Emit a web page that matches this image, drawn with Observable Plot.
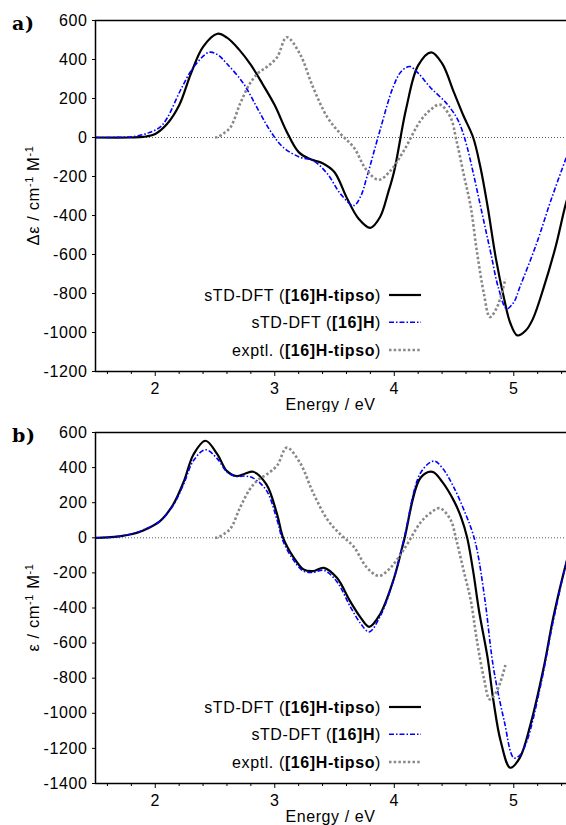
<!DOCTYPE html>
<html><head><meta charset="utf-8">
<script src="https://cdn.jsdelivr.net/npm/d3@7"></script>
<script src="https://cdn.jsdelivr.net/npm/@observablehq/plot@0.6"></script>
<style>
html,body{margin:0;padding:0;background:#fff;overflow:hidden}
svg{display:block}
svg text{letter-spacing:0.6px}
</style></head><body><div id="chart"></div>
<script>
// ---- data (energy in eV, value in cm^-1 M^-1) ----
const cdTipso = [[1.5,0],[1.8,0],[1.9,3],[2.0,18],[2.1,70],[2.2,165],[2.3,330],[2.4,465],[2.52,532],[2.6,512],[2.7,452],[2.8,372],[2.9,272],[3.0,165],[3.1,30],[3.2,-75],[3.3,-112],[3.4,-132],[3.5,-178],[3.6,-306],[3.7,-415],[3.8,-463],[3.88,-409],[3.95,-280],[4.0,-170],[4.1,150],[4.2,370],[4.31,437],[4.4,380],[4.5,230],[4.58,110],[4.66,0],[4.72,-150],[4.78,-350],[4.85,-620],[4.92,-830],[4.97,-950],[5.03,-1015],[5.1,-990],[5.16,-930],[5.25,-770],[5.35,-560],[5.44,-330],[5.5,-220]];
const cdParent = [[1.5,0],[1.75,2],[1.85,8],[1.95,25],[2.04,53],[2.1,100],[2.21,241],[2.32,360],[2.45,437],[2.52,425],[2.6,378],[2.74,275],[2.85,155],[2.96,36],[3.07,-50],[3.21,-101],[3.32,-118],[3.44,-186],[3.55,-289],[3.66,-349],[3.72,-300],[3.77,-204],[3.88,36],[3.99,258],[4.06,340],[4.13,364],[4.2,330],[4.3,258],[4.44,173],[4.52,104],[4.56,50],[4.61,-50],[4.66,-180],[4.71,-320],[4.76,-460],[4.81,-600],[4.87,-768],[4.94,-878],[5.0,-845],[5.05,-768],[5.19,-545],[5.31,-323],[5.44,-101],[5.5,0]];
const cdExptl = [[2.5,0],[2.52,2],[2.57,20],[2.63,53],[2.71,173],[2.79,275],[2.86,330],[2.93,360],[3.02,412],[3.1,514],[3.21,429],[3.32,258],[3.44,104],[3.55,19],[3.66,-50],[3.77,-169],[3.87,-217],[3.97,-169],[4.08,-67],[4.22,87],[4.3,140],[4.38,169],[4.47,104],[4.52,-15],[4.58,-186],[4.64,-357],[4.69,-579],[4.75,-801],[4.8,-921],[4.86,-870],[4.93,-725]];

const absTipso = [[1.5,0],[1.6,2],[1.7,8],[1.8,20],[1.9,42],[2.04,95],[2.15,190],[2.24,323],[2.32,475],[2.42,553],[2.52,475],[2.6,380],[2.68,352],[2.75,365],[2.82,376],[2.93,304],[3.02,133],[3.07,0],[3.16,-114],[3.24,-180],[3.32,-190],[3.41,-171],[3.52,-228],[3.63,-361],[3.72,-456],[3.79,-507],[3.88,-437],[3.99,-247],[4.08,-19],[4.22,342],[4.32,376],[4.4,320],[4.5,209],[4.56,115],[4.61,0],[4.66,-190],[4.71,-420],[4.78,-680],[4.83,-930],[4.89,-1158],[4.97,-1310],[5.05,-1254],[5.14,-1063],[5.25,-741],[5.33,-456],[5.44,-140],[5.5,0]];
const absParent = [[1.5,0],[1.6,2],[1.7,9],[1.8,22],[1.9,45],[2.04,95],[2.15,185],[2.24,310],[2.32,440],[2.42,502],[2.52,450],[2.6,375],[2.68,350],[2.75,352],[2.82,340],[2.93,270],[3.02,100],[3.07,-20],[3.16,-130],[3.24,-190],[3.32,-197],[3.41,-185],[3.52,-250],[3.63,-390],[3.72,-490],[3.79,-536],[3.88,-450],[3.99,-250],[4.08,-10],[4.22,370],[4.33,437],[4.4,400],[4.5,285],[4.6,130],[4.65,40],[4.69,-60],[4.76,-361],[4.83,-741],[4.92,-1044],[5.0,-1254],[5.05,-1240],[5.11,-1158],[5.22,-855],[5.33,-475],[5.44,-140],[5.5,0]];
const absExptl = cdExptl;

const xMajor = [2, 3, 4, 5];
const xMinor = [1.6,1.8,2.2,2.4,2.6,2.8,3.2,3.4,3.6,3.8,4.2,4.4,4.6,4.8,5.2,5.4];
const yTicksA = [-1200,-1000,-800,-600,-400,-200,0,200,400,600];
const yTicksB = [-1400,-1200,-1000,-800,-600,-400,-200,0,200,400,600];
const legendNames = [["sTD-DFT (", "[16]H-tipso", ")"], ["sTD-DFT (", "[16]H", ")"], ["exptl. (", "[16]H-tipso", ")"]];

const styles = [
  {stroke: "#000", strokeWidth: 2.2},
  {stroke: "#0000ff", strokeWidth: 1.6, strokeDasharray: "5,2,1.5,2"},
  {stroke: "#888", strokeWidth: 2.6, strokeDasharray: "2.5,2.2"}
];

function panel({series, yDomain, yTicks, height, marginBottom, letter, ylabel}) {
  const mt = 20;
  const chart = Plot.plot({
    width: 566, height, marginLeft: 95, marginRight: 0, marginTop: mt, marginBottom,
    style: {fontFamily: "'Liberation Sans', Arial, sans-serif", fontSize: "16px", color: "#000", background: "#fff", overflow: "hidden"},
    x: {domain: [1.5, 5.441]},
    y: {domain: yDomain},
    marks: [
      Plot.ruleY([0], {stroke: "#333", strokeWidth: 0.8, strokeDasharray: "1,2"}),
      ...series.map((d, i) => Plot.line(d, {x: "0", y: "1", curve: "catmull-rom", clip: true, strokeLinecap: "butt", strokeLinejoin: "round", ...styles[i]})),
      Plot.axisX({ticks: xMinor, tickSize: 3, tickFormat: () => "", label: null}),
      Plot.axisX({ticks: xMajor, tickSize: 5, tickPadding: 6, tickFormat: d => String(d), label: null}),
      Plot.axisY({ticks: yTicks, tickSize: 3, tickPadding: 5, tickFormat: d => String(d), label: null}),
      Plot.ruleX([1.5], {stroke: "#000", strokeWidth: 1.5}),
      Plot.ruleY([yDomain[0], yDomain[1]], {stroke: "#000", strokeWidth: 1.5})
    ]
  });
  const svg = d3.select(chart);
  const bottom = height - marginBottom;
  // panel letter
  svg.append("text").attr("x", 12).attr("y", 29.5).attr("text-anchor", "start")
    .attr("font-family", "'DejaVu Serif', serif").attr("font-weight", "bold").attr("font-size", 19)
    .text(letter);
  // x label
  svg.append("text").attr("x", (95 + 566) / 2).attr("y", bottom + 38.5)
    .attr("text-anchor", "middle").attr("font-size", 16).text("Energy / eV");
  // y label
  const yl = svg.append("text").attr("transform", `translate(39,${(mt + bottom) / 2}) rotate(-90)`)
    .attr("text-anchor", "middle").attr("font-size", 16.5);
  yl.append("tspan").text(ylabel + " / cm");
  yl.append("tspan").attr("dy", -6).attr("font-size", 11).text("-1");
  yl.append("tspan").attr("dy", 6).text(" M");
  yl.append("tspan").attr("dy", -6).attr("font-size", 11).text("-1");
  // legend
  const rowY = [295, 322.3, 350];
  legendNames.forEach((parts, i) => {
    const t = svg.append("text").attr("x", 381).attr("y", rowY[i] + 5.5)
      .attr("text-anchor", "end").attr("font-size", 16);
    t.append("tspan").text(parts[0]);
    t.append("tspan").attr("font-weight", "bold").text(parts[1]);
    t.append("tspan").text(parts[2]);
    const s = styles[i];
    svg.append("line").attr("x1", 389).attr("x2", 421).attr("y1", rowY[i]).attr("y2", rowY[i])
      .attr("stroke", s.stroke).attr("stroke-width", s.strokeWidth)
      .attr("stroke-dasharray", s.strokeDasharray || null);
  });
  return chart;
}

const root = document.getElementById("chart");
root.appendChild(panel({series: [cdTipso, cdParent, cdExptl], yDomain: [-1200, 600], yTicks: yTicksA, height: 412, marginBottom: 41, letter: "a)", ylabel: "Δε"}));
root.appendChild(panel({series: [absTipso, absParent, absExptl], yDomain: [-1400, 600], yTicks: yTicksB, height: 413, marginBottom: 42, letter: "b)", ylabel: "ε"}));
</script>
</body></html>
